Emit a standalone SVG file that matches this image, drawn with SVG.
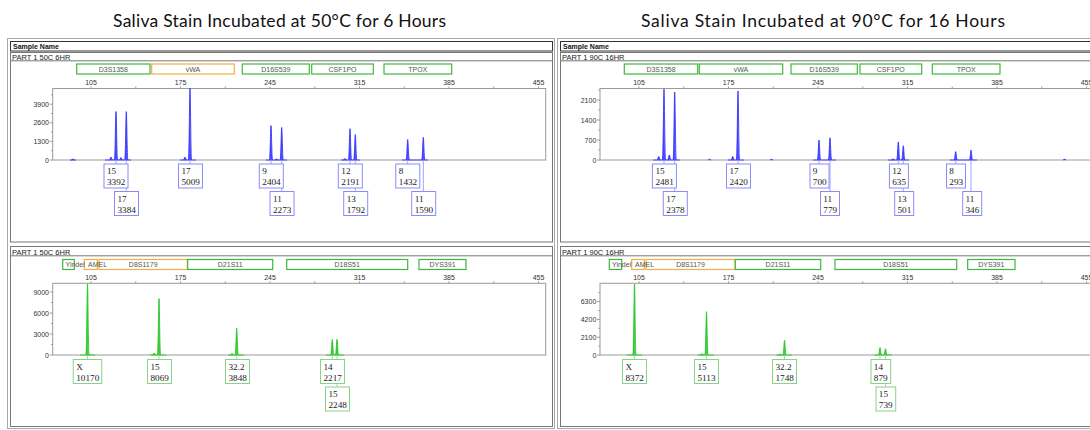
<svg xmlns="http://www.w3.org/2000/svg" width="1090" height="430" viewBox="0 0 1090 430">
  <style>
    .title { font-family: Lato, "Liberation Sans", Arial, sans-serif; font-size: 17.5px; fill: #111; }
    .hdr { font-family: "Liberation Sans", Arial, sans-serif; font-size: 7px; font-weight: bold; fill: #111; }
    .part { font-family: "Liberation Sans", Arial, sans-serif; font-size: 7.5px; fill: #222; }
    .mk { font-family: "Liberation Sans", Arial, sans-serif; font-size: 7px; fill: #555; text-anchor: middle; }
    .mks { font-family: "Liberation Sans", Arial, sans-serif; font-size: 7px; fill: #555; }
    .ax { font-family: "Liberation Sans", Arial, sans-serif; font-size: 7px; fill: #333; text-anchor: middle; }
    .ay { font-family: "Liberation Sans", Arial, sans-serif; font-size: 7px; fill: #333; text-anchor: end; }
    .cl { font-family: "Liberation Serif", "Times New Roman", serif; font-size: 9.2px; fill: #222; }
    .outer { fill: none; stroke: #a8a8a8; stroke-width: 1; }
    .bar { fill: #fff; stroke: #333; stroke-width: 1; }
    .sub { fill: none; stroke: #777; stroke-width: 1; }
    .frame { fill: none; stroke: #9a9a9a; stroke-width: 1; }
    .tick { stroke: #888; stroke-width: 0.8; }
    .mg { fill: #fff; stroke: #3fb83f; stroke-width: 1.2; }
    .mo { fill: #fff; stroke: #f5ae45; stroke-width: 1.2; }
    .pb { fill: #5050ff; stroke: #2a2aff; stroke-width: 0.8; }
    .pg { fill: #40d040; stroke: #22c022; stroke-width: 0.8; }
    .tb { fill: none; stroke: #4040ff; stroke-width: 0.9; }
    .tg { fill: none; stroke: #30c830; stroke-width: 0.9; }
    .bb { fill: #fff; stroke: #8a8aff; stroke-width: 1; }
    .bg { fill: #fff; stroke: #86d486; stroke-width: 1; }
    .cb { stroke: #8a8aff; stroke-width: 0.8; }
    .cg { stroke: #86d486; stroke-width: 0.8; }
  </style>

  <!-- titles -->
  <text class="title" x="279.5" y="27" text-anchor="middle" textLength="333">Saliva Stain Incubated at 50°C for 6 Hours</text>
  <text class="title" x="823" y="27" text-anchor="middle" textLength="364">Saliva Stain Incubated at 90°C for 16 Hours</text>

  <!-- ===== left window frames ===== -->
  <g id="left-frame">
    <rect class="outer" x="7.5" y="38.5" width="547" height="390"/>
    <rect class="bar" x="10.5" y="41.5" width="542" height="9.5"/>
    <text class="hdr" x="13" y="49">Sample Name</text>
    <rect class="sub" x="10.5" y="52.5" width="542" height="189.5"/>
    <line class="sub" x1="10.5" y1="60.8" x2="552.5" y2="60.8"/>
    <text class="part" x="12" y="59.8">PART 1 50C 6HR</text>
    <rect class="sub" x="10.5" y="246.5" width="542" height="180"/>
    <line class="sub" x1="10.5" y1="255.8" x2="552.5" y2="255.8"/>
    <text class="part" x="12" y="255">PART 1 50C 6HR</text>
  </g>

  <!-- ===== right window frames ===== -->
  <g id="right-frame">
    <rect class="outer" x="557.5" y="38.5" width="547" height="390"/>
    <rect class="bar" x="560.5" y="41.5" width="542" height="9.5"/>
    <text class="hdr" x="563" y="49">Sample Name</text>
    <rect class="sub" x="560.5" y="52.5" width="542" height="189.5"/>
    <line class="sub" x1="560.5" y1="60.8" x2="1102" y2="60.8"/>
    <text class="part" x="562" y="59.8">PART 1 90C 16HR</text>
    <rect class="sub" x="560.5" y="246.5" width="542" height="180"/>
    <line class="sub" x1="560.5" y1="255.8" x2="1102" y2="255.8"/>
    <text class="part" x="562" y="255">PART 1 90C 16HR</text>
  </g>

  <!-- shared size axis: ticks every 35 bp -->
  <defs>
    <g id="xticks">
      <path class="tick" d="M91,0v-2 M135.75,0v-2 M180.5,0v-2 M225.25,0v-2 M270,0v-2 M314.75,0v-2 M359.5,0v-2 M404.25,0v-2 M449,0v-2 M493.75,0v-2 M538.5,0v-2"/>
      <text class="ax" x="91" y="-3.6">105</text>
      <text class="ax" x="180.5" y="-3.6">175</text>
      <text class="ax" x="270" y="-3.6">245</text>
      <text class="ax" x="359.5" y="-3.6">315</text>
      <text class="ax" x="449" y="-3.6">385</text>
      <text class="ax" x="538.5" y="-3.6">455</text>
    </g>
  </defs>

  <!-- ===== left top: blue dye ===== -->
  <g id="markers-l1">
    <rect class="mg" x="76.7" y="64" width="73.3" height="10"/><text class="mk" x="113.3" y="71.6">D3S1358</text>
    <rect class="mo" x="151.7" y="64" width="82.6" height="10"/><text class="mk" x="193" y="71.6">vWA</text>
    <rect class="mg" x="242.3" y="64" width="67" height="10"/><text class="mk" x="275.8" y="71.6">D16S539</text>
    <rect class="mg" x="311.7" y="64" width="61.6" height="10"/><text class="mk" x="342.5" y="71.6">CSF1PO</text>
    <rect class="mg" x="384" y="64" width="67.7" height="10"/><text class="mk" x="417.8" y="71.6">TPOX</text>
  </g>
  <g id="plot-l1">
    <rect class="frame" x="52.7" y="88.5" width="493" height="71.5"/>
    <use href="#xticks" y="88.5"/>
    <path class="tick" d="M49.7,160h3 M49.7,141.4h3 M49.7,122.8h3 M49.7,104.2h3 M51,150.7h1.7 M51,132.1h1.7 M51,113.5h1.7 M51,94.9h1.7"/>
    <text class="ay" x="49" y="162.5">0</text>
    <text class="ay" x="49" y="143.9">1300</text>
    <text class="ay" x="49" y="125.3">2600</text>
    <text class="ay" x="49" y="106.7">3900</text>
    <path class="tb" d="M70,160H76 M105,160H131 M180,160H196 M266,160H287 M341,160H360 M402,160H428"/>
    <path class="pb" d="M71.5,160 c0.6,0 0.8,-1 1.5,-1 c0.7,0 0.9,1 1.5,1 M109.5,160 c0.6,0 0.9,-3 1.5,-3 c0.6,0 0.9,3 1.5,3 M119.5,160 c0.6,0 0.9,-2.5 1.5,-2.5 c0.6,0 0.9,2.5 1.5,2.5 M183.5,160 c0.6,0 0.9,-3 1.5,-3 c0.6,0 0.9,3 1.5,3 M275,160 c0.6,0 0.9,-1 1.5,-1 c0.6,0 0.9,1 1.5,1 M343.5,160 c0.6,0 0.9,-1.5 1.5,-1.5 c0.6,0 0.9,1.5 1.5,1.5"/>
    <path class="pb" d="M114.4,160 c0.8,0 1.1,-48.5 1.6,-48.5 c0.5,0 0.8,48.5 1.6,48.5 M124.7,160 c0.8,0 1.1,-48.4 1.6,-48.4 c0.5,0 0.8,48.4 1.6,48.4 M188.4,160 c0.8,0 1.1,-71.7 1.6,-71.7 c0.5,0 0.8,71.7 1.6,71.7 M269.4,160 c0.8,0 1.1,-34.4 1.6,-34.4 c0.5,0 0.8,34.4 1.6,34.4 M280.1,160 c0.8,0 1.1,-32.5 1.6,-32.5 c0.5,0 0.8,32.5 1.6,32.5 M348.4,160 c0.8,0 1.1,-31.3 1.6,-31.3 c0.5,0 0.8,31.3 1.6,31.3 M353.7,160 c0.8,0 1.1,-25.6 1.6,-25.6 c0.5,0 0.8,25.6 1.6,25.6 M406.1,160 c0.8,0 1.1,-20.5 1.6,-20.5 c0.5,0 0.8,20.5 1.6,20.5 M421.7,160 c0.8,0 1.1,-22.7 1.6,-22.7 c0.5,0 0.8,22.7 1.6,22.7"/>
  </g>
  <g id="connectors-l1">
    <path class="cb" d="M116,160V164 M126.3,160V191.5 M190,160V164 M271,160V164 M281.7,160V191.5 M350,160V164 M355.3,160V191.5 M407.7,160V164 M423.3,160V191.5"/>
  </g>
  <g id="calls-l1">
    <g><rect class="bb" x="114.5" y="191.5" width="24" height="24"/><text class="cl" x="117.5" y="201.5">17</text><text class="cl" x="117.5" y="212.5">3384</text></g>
    <g><rect class="bb" x="104" y="164" width="24" height="24"/><text class="cl" x="107" y="174">15</text><text class="cl" x="107" y="185">3392</text></g>
    <g><rect class="bb" x="178.5" y="164" width="24" height="24"/><text class="cl" x="181.5" y="174">17</text><text class="cl" x="181.5" y="185">5009</text></g>
    <g><rect class="bb" x="270" y="191.5" width="24" height="24"/><text class="cl" x="273" y="201.5">11</text><text class="cl" x="273" y="212.5">2273</text></g>
    <g><rect class="bb" x="259.3" y="164" width="24" height="24"/><text class="cl" x="262.3" y="174">9</text><text class="cl" x="262.3" y="185">2404</text></g>
    <g><rect class="bb" x="343.7" y="191.5" width="24" height="24"/><text class="cl" x="346.7" y="201.5">13</text><text class="cl" x="346.7" y="212.5">1792</text></g>
    <g><rect class="bb" x="338.3" y="164" width="24" height="24"/><text class="cl" x="341.3" y="174">12</text><text class="cl" x="341.3" y="185">2191</text></g>
    <g><rect class="bb" x="411.7" y="191.5" width="24" height="24"/><text class="cl" x="414.7" y="201.5">11</text><text class="cl" x="414.7" y="212.5">1590</text></g>
    <g><rect class="bb" x="395.8" y="164" width="24" height="24"/><text class="cl" x="398.8" y="174">8</text><text class="cl" x="398.8" y="185">1432</text></g>
  </g>

  <!-- ===== left bottom: green dye ===== -->
  <g id="markers-l2">
    <rect class="mg" x="62.7" y="259.5" width="11.6" height="10"/>
    <rect class="mo" x="84.3" y="259.5" width="13" height="10"/>
    <rect class="mo" x="99" y="259.5" width="88.3" height="10"/><text class="mk" x="143.2" y="267">D8S1179</text>
    <rect class="mg" x="187.7" y="259.5" width="85" height="10"/><text class="mk" x="230.2" y="267">D21S11</text>
    <rect class="mg" x="286.7" y="259.5" width="121" height="10"/><text class="mk" x="347.2" y="267">D18S51</text>
    <rect class="mg" x="419" y="259.5" width="47" height="10"/><text class="mk" x="442.5" y="267">DYS391</text>
    <text class="mks" x="65.5" y="267">Yindel</text>
    <text class="mks" x="88" y="267">AMEL</text>
  </g>
  <g id="plot-l2">
    <rect class="frame" x="52.7" y="283.3" width="493" height="71.7"/>
    <use href="#xticks" y="283.3"/>
    <path class="tick" d="M49.7,355h3 M49.7,334h3 M49.7,313h3 M49.7,292h3 M51,344.5h1.7 M51,323.5h1.7 M51,302.5h1.7"/>
    <text class="ay" x="49" y="357.5">0</text>
    <text class="ay" x="49" y="336.5">3000</text>
    <text class="ay" x="49" y="315.5">6000</text>
    <text class="ay" x="49" y="294.5">9000</text>
    <path class="tg" d="M80,355H95 M150,355H166 M228,355H244 M326,355H344"/>
    <path class="pg" d="M152.5,355 c0.6,0 0.9,-2 1.5,-2 c0.6,0 0.9,2 1.5,2 M230.5,355 c0.6,0 0.9,-1.5 1.5,-1.5 c0.6,0 0.9,1.5 1.5,1.5"/>
    <path class="pg" d="M85.9,355 c0.8,0 1.1,-71.2 1.6,-71.2 c0.5,0 0.8,71.2 1.6,71.2 M157.4,355 c0.8,0 1.1,-56.5 1.6,-56.5 c0.5,0 0.8,56.5 1.6,56.5 M235.1,355 c0.8,0 1.1,-26.9 1.6,-26.9 c0.5,0 0.8,26.9 1.6,26.9 M330.7,355 c0.8,0 1.1,-15.5 1.6,-15.5 c0.5,0 0.8,15.5 1.6,15.5 M335.4,355 c0.8,0 1.1,-15.7 1.6,-15.7 c0.5,0 0.8,15.7 1.6,15.7"/>
  </g>
  <g id="connectors-l2">
    <path class="cg" d="M87.5,355V359.5 M159,355V359.5 M236.7,355V359.5 M332.3,355V359.5 M337,355V387"/>
  </g>
  <g id="calls-l2">
    <g><rect class="bg" x="73.25" y="359.5" width="28.5" height="24"/><text class="cl" x="76.25" y="369.5">X</text><text class="cl" x="76.25" y="380.5">10170</text></g>
    <g><rect class="bg" x="147.5" y="359.5" width="24" height="24"/><text class="cl" x="150.5" y="369.5">15</text><text class="cl" x="150.5" y="380.5">8069</text></g>
    <g><rect class="bg" x="225.5" y="359.5" width="24" height="24"/><text class="cl" x="228.5" y="369.5">32.2</text><text class="cl" x="228.5" y="380.5">3848</text></g>
    <g><rect class="bg" x="325.5" y="387" width="24" height="24"/><text class="cl" x="328.5" y="397">15</text><text class="cl" x="328.5" y="408">2248</text></g>
    <g><rect class="bg" x="320.5" y="359.5" width="24" height="24"/><text class="cl" x="323.5" y="369.5">14</text><text class="cl" x="323.5" y="380.5">2217</text></g>
  </g>

  <!-- ===== right top: blue dye ===== -->
  <g id="markers-r1">
    <rect class="mg" x="624.3" y="64" width="73.4" height="10"/><text class="mk" x="661" y="71.6">D3S1358</text>
    <rect class="mg" x="699.3" y="64" width="83.4" height="10"/><text class="mk" x="741" y="71.6">vWA</text>
    <rect class="mg" x="791" y="64" width="66.3" height="10"/><text class="mk" x="824.2" y="71.6">D16S539</text>
    <rect class="mg" x="860" y="64" width="61.7" height="10"/><text class="mk" x="890.8" y="71.6">CSF1PO</text>
    <rect class="mg" x="932.3" y="64" width="67.7" height="10"/><text class="mk" x="966.2" y="71.6">TPOX</text>
  </g>
  <g id="plot-r1">
    <rect class="frame" x="600" y="88.5" width="494" height="71.5"/>
    <use href="#xticks" x="548" y="88.5"/>
    <path class="tick" d="M597,160h3 M597,140h3 M597,120h3 M597,100h3 M598.3,150h1.7 M598.3,130h1.7 M598.3,110h1.7 M598.3,90h1.7"/>
    <text class="ay" x="596.3" y="162.5">0</text>
    <text class="ay" x="596.3" y="142.5">700</text>
    <text class="ay" x="596.3" y="122.5">1400</text>
    <text class="ay" x="596.3" y="102.5">2100</text>
    <path class="tb" d="M653,160H680 M728,160H744 M813,160H836 M888,160H909 M950,160H977"/>
    <path class="pb" d="M657.2,160 c0.6,0 0.9,-3.5 1.5,-3.5 c0.6,0 0.9,3.5 1.5,3.5 M667.8,160 c0.6,0 0.9,-5 1.5,-5 c0.6,0 0.9,5 1.5,5 M731.2,160 c0.6,0 0.9,-3.5 1.5,-3.5 c0.6,0 0.9,3.5 1.5,3.5 M891.5,160 c0.6,0 0.9,-1.2 1.5,-1.2 c0.6,0 0.9,1.2 1.5,1.2 M708,160 c0.6,0 0.9,-0.8 1.5,-0.8 c0.6,0 0.9,0.8 1.5,0.8 M770,160 c0.6,0 0.9,-0.7 1.5,-0.7 c0.6,0 0.9,0.7 1.5,0.7 M1063,160 c0.6,0 0.9,-0.7 1.5,-0.7 c0.6,0 0.9,0.7 1.5,0.7"/>
    <path class="pb" d="M662.4,160 c0.8,0 1.1,-70.9 1.6,-70.9 c0.5,0 0.8,70.9 1.6,70.9 M673.1,160 c0.8,0 1.1,-67.9 1.6,-67.9 c0.5,0 0.8,67.9 1.6,67.9 M736.4,160 c0.8,0 1.1,-69.1 1.6,-69.1 c0.5,0 0.8,69.1 1.6,69.1 M817.4,160 c0.8,0 1.1,-20 1.6,-20 c0.5,0 0.8,20 1.6,20 M828.4,160 c0.8,0 1.1,-22.3 1.6,-22.3 c0.5,0 0.8,22.3 1.6,22.3 M896.7,160 c0.8,0 1.1,-18.1 1.6,-18.1 c0.5,0 0.8,18.1 1.6,18.1 M901.7,160 c0.8,0 1.1,-14.3 1.6,-14.3 c0.5,0 0.8,14.3 1.6,14.3 M954.1,160 c0.8,0 1.1,-8.4 1.6,-8.4 c0.5,0 0.8,8.4 1.6,8.4 M969.4,160 c0.8,0 1.1,-9.9 1.6,-9.9 c0.5,0 0.8,9.9 1.6,9.9"/>
  </g>
  <g id="connectors-r1">
    <path class="cb" d="M664,160V164 M674.7,160V191.5 M738,160V164 M819,160V164 M830,160V191.5 M898.3,160V164 M903.3,160V191.5 M955.7,160V164 M971,160V191.5"/>
  </g>
  <g id="calls-r1">
    <g><rect class="bb" x="663.3" y="191.5" width="24" height="24"/><text class="cl" x="666.3" y="201.5">17</text><text class="cl" x="666.3" y="212.5">2378</text></g>
    <g><rect class="bb" x="652.4" y="164" width="24" height="24"/><text class="cl" x="655.4" y="174">15</text><text class="cl" x="655.4" y="185">2481</text></g>
    <g><rect class="bb" x="726.5" y="164" width="24" height="24"/><text class="cl" x="729.5" y="174">17</text><text class="cl" x="729.5" y="185">2420</text></g>
    <g><rect class="bb" x="820.5" y="191.5" width="19" height="24"/><text class="cl" x="823.3" y="201.5">11</text><text class="cl" x="823.3" y="212.5">779</text></g>
    <g><rect class="bb" x="810" y="164" width="19" height="24"/><text class="cl" x="812.8" y="174">9</text><text class="cl" x="812.8" y="185">700</text></g>
    <g><rect class="bb" x="894.7" y="191.5" width="19" height="24"/><text class="cl" x="897.5" y="201.5">13</text><text class="cl" x="897.5" y="212.5">501</text></g>
    <g><rect class="bb" x="889.4" y="164" width="19" height="24"/><text class="cl" x="892.2" y="174">12</text><text class="cl" x="892.2" y="185">635</text></g>
    <g><rect class="bb" x="962.7" y="191.5" width="19" height="24"/><text class="cl" x="965.5" y="201.5">11</text><text class="cl" x="965.5" y="212.5">346</text></g>
    <g><rect class="bb" x="946.5" y="164" width="19" height="24"/><text class="cl" x="949.3" y="174">8</text><text class="cl" x="949.3" y="185">293</text></g>
  </g>

  <!-- ===== right bottom: green dye ===== -->
  <g id="markers-r2">
    <rect class="mg" x="609.3" y="259.5" width="12.4" height="10"/>
    <rect class="mo" x="631.7" y="259.5" width="12.6" height="10"/>
    <rect class="mo" x="646" y="259.5" width="89" height="10"/><text class="mk" x="690.5" y="267">D8S1179</text>
    <rect class="mg" x="735.3" y="259.5" width="85.4" height="10"/><text class="mk" x="778" y="267">D21S11</text>
    <rect class="mg" x="835" y="259.5" width="121.7" height="10"/><text class="mk" x="895.8" y="267">D18S51</text>
    <rect class="mg" x="967.7" y="259.5" width="47.3" height="10"/><text class="mk" x="991.3" y="267">DYS391</text>
    <text class="mks" x="612" y="267">Yindel</text>
    <text class="mks" x="635" y="267">AMEL</text>
  </g>
  <g id="plot-r2">
    <rect class="frame" x="600" y="283.3" width="494" height="71.7"/>
    <use href="#xticks" x="548" y="283.3"/>
    <path class="tick" d="M597,355h3 M597,337.2h3 M597,319.4h3 M597,301.6h3 M598.3,346.1h1.7 M598.3,328.3h1.7 M598.3,310.5h1.7 M598.3,292.7h1.7"/>
    <text class="ay" x="596.3" y="357.5">0</text>
    <text class="ay" x="596.3" y="339.7">2100</text>
    <text class="ay" x="596.3" y="321.9">4200</text>
    <text class="ay" x="596.3" y="304.1">6300</text>
    <path class="tg" d="M627,355H642 M698,355H714 M776,355H792 M874,355H892"/>
    <path class="pg" d="M700.5,355 c0.6,0 0.9,-1.5 1.5,-1.5 c0.6,0 0.9,1.5 1.5,1.5 M778.5,355 c0.6,0 0.9,-1 1.5,-1 c0.6,0 0.9,1 1.5,1"/>
    <path class="pg" d="M632.9,355 c0.8,0 1.1,-71 1.6,-71 c0.5,0 0.8,71 1.6,71 M704.9,355 c0.8,0 1.1,-43.3 1.6,-43.3 c0.5,0 0.8,43.3 1.6,43.3 M782.9,355 c0.8,0 1.1,-14.8 1.6,-14.8 c0.5,0 0.8,14.8 1.6,14.8 M878.4,355 c0.8,0 1.1,-7.5 1.6,-7.5 c0.5,0 0.8,7.5 1.6,7.5 M883.9,355 c0.8,0 1.1,-6.3 1.6,-6.3 c0.5,0 0.8,6.3 1.6,6.3"/>
  </g>
  <g id="connectors-r2">
    <path class="cg" d="M634.5,355V359.5 M706.5,355V359.5 M784.5,355V359.5 M880,355V359.5 M885.5,355V387"/>
  </g>
  <g id="calls-r2">
    <g><rect class="bg" x="622.5" y="359.5" width="24" height="24"/><text class="cl" x="625.5" y="369.5">X</text><text class="cl" x="625.5" y="380.5">8372</text></g>
    <g><rect class="bg" x="694.5" y="359.5" width="24" height="24"/><text class="cl" x="697.5" y="369.5">15</text><text class="cl" x="697.5" y="380.5">5113</text></g>
    <g><rect class="bg" x="772.5" y="359.5" width="24" height="24"/><text class="cl" x="775.5" y="369.5">32.2</text><text class="cl" x="775.5" y="380.5">1748</text></g>
    <g><rect class="bg" x="876" y="387" width="19.7" height="24"/><text class="cl" x="878.8" y="397">15</text><text class="cl" x="878.8" y="408">739</text></g>
    <g><rect class="bg" x="871" y="359.5" width="19.7" height="24"/><text class="cl" x="873.8" y="369.5">14</text><text class="cl" x="873.8" y="380.5">879</text></g>
  </g>
</svg>
